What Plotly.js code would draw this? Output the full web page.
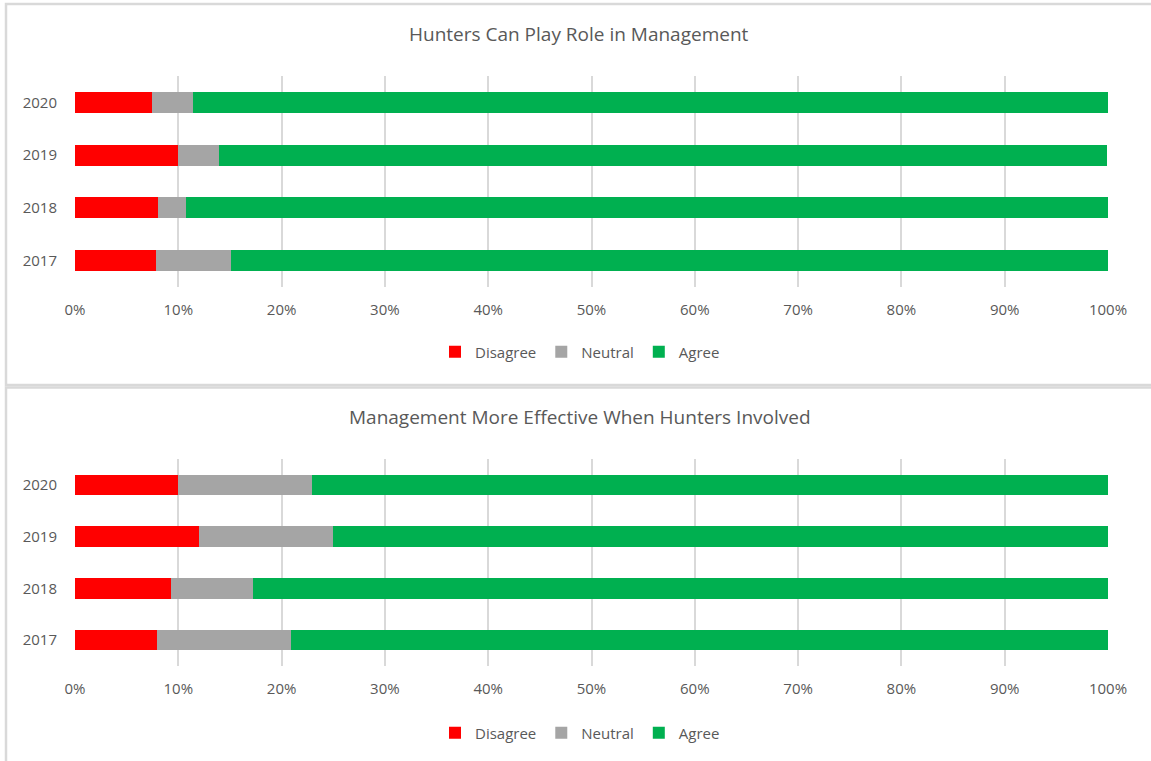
<!DOCTYPE html>
<html>
<head>
<meta charset="utf-8">
<script src="https://cdn.plot.ly/plotly-3.0.1.min.js"></script>
<style>
  html, body { margin: 0; padding: 0; background: #ffffff; }
  #chart { width: 1151px; height: 761px; }
</style>
</head>
<body>
<div id="chart"></div>
<script>
// ---- data ----
const years = ['2017', '2018', '2019', '2020'];
const seriesNames = ['Disagree', 'Neutral', 'Agree'];
const seriesColors = ['#FF0000', '#A5A5A5', '#00B050'];

const chart1Title = 'Hunters Can Play Role in Management';
const chart1Disagree = [7.8, 8.0, 10.0, 7.5];
const chart1Neutral  = [7.3, 2.7, 3.9, 3.9];
const chart1Agree    = [84.9, 89.4, 86.0, 88.7];

const chart2Title = 'Management More Effective When Hunters Involved';
const chart2Disagree = [7.9, 9.3, 12.0, 10.0];
const chart2Neutral  = [13.0, 7.9, 13.0, 12.9];
const chart2Agree    = [79.2, 83.1, 75.0, 77.1];

const xTickVals = [0, 10, 20, 30, 40, 50, 60, 70, 80, 90, 100];
const xTickText = xTickVals.map(v => v + '%');

// ---- layout helpers ----
const W = 1151, H = 761;
const px = x => x / W;
const py = y => 1 - y / H;
const FONT = 'Open Sans, sans-serif';
const TXT = '#595959';
const GRID = '#D9D9D9';

function makeTraces(vals, xa, ya, leg) {
  return vals.map((v, i) => ({
    type: 'bar',
    orientation: 'h',
    name: seriesNames[i],
    x: v,
    y: years,
    xaxis: xa,
    yaxis: ya,
    legend: leg,
    marker: { color: seriesColors[i], line: { width: 0 } },
    cliponaxis: false,
    hoverinfo: 'x+y+name'
  }));
}

const traces = [].concat(
  makeTraces([chart1Disagree, chart1Neutral, chart1Agree], 'x', 'y', 'legend'),
  makeTraces([chart2Disagree, chart2Neutral, chart2Agree], 'x2', 'y2', 'legend2')
);

function xAxis(anchor) {
  return {
    domain: [px(75), px(1108)],
    anchor: anchor,
    range: [0, 100],
    tickvals: xTickVals,
    ticktext: xTickText,
    showgrid: true,
    gridcolor: GRID,
    gridwidth: 2,
    zeroline: false,
    showline: false,
    ticks: 'outside',
    ticklen: 9,
    tickcolor: 'rgba(0,0,0,0)',
    tickfont: { family: FONT, size: 15, color: TXT },
    fixedrange: true
  };
}
function yAxis(y0, y1, anchor) {
  return {
    domain: [py(y1), py(y0)],
    anchor: anchor,
    type: 'category',
    categoryorder: 'array',
    categoryarray: years,
    showgrid: false,
    zeroline: false,
    showline: false,
    ticks: 'outside',
    ticklen: 14,
    tickcolor: 'rgba(0,0,0,0)',
    tickfont: { family: FONT, size: 15, color: TXT },
    fixedrange: true
  };
}

const legendCommon = {
  orientation: 'h',
  xanchor: 'center',
  yanchor: 'middle',
  x: px(580),
  font: { family: FONT, size: 15, color: TXT },
  itemwidth: 30,
  bgcolor: 'rgba(0,0,0,0)',
  traceorder: 'normal'
};

const layout = {
  width: W,
  height: H,
  margin: { l: 0, r: 0, t: 0, b: 0, pad: 0 },
  paper_bgcolor: '#ffffff',
  plot_bgcolor: 'rgba(0,0,0,0)',
  barmode: 'stack',
  bargap: 0.6,
  showlegend: true,
  xaxis: xAxis('y'),
  yaxis: yAxis(76, 287, 'x'),
  xaxis2: xAxis('y2'),
  yaxis2: yAxis(459, 666, 'x2'),
  legend: Object.assign({}, legendCommon, { y: py(352) }),
  legend2: Object.assign({}, legendCommon, { y: py(733) }),
  annotations: [
    { text: chart1Title, xref: 'paper', yref: 'paper', x: px(579), y: py(34),
      xanchor: 'center', yanchor: 'middle', showarrow: false,
      font: { family: FONT, size: 19, color: TXT } },
    { text: chart2Title, xref: 'paper', yref: 'paper', x: px(580), y: py(417),
      xanchor: 'center', yanchor: 'middle', showarrow: false,
      font: { family: FONT, size: 19, color: TXT } }
  ],
  shapes: [
    { type: 'rect', xref: 'paper', yref: 'paper', layer: 'below',
      x0: px(6), x1: px(1160), y0: py(385), y1: py(4),
      line: { color: GRID, width: 2.5 }, fillcolor: 'rgba(0,0,0,0)' },
    { type: 'rect', xref: 'paper', yref: 'paper', layer: 'below',
      x0: px(6), x1: px(1160), y0: py(775), y1: py(387.5),
      line: { color: GRID, width: 2.5 }, fillcolor: 'rgba(0,0,0,0)' }
  ]
};

Plotly.newPlot('chart', traces, layout, { displayModeBar: false, staticPlot: true });
</script>
</body>
</html>
